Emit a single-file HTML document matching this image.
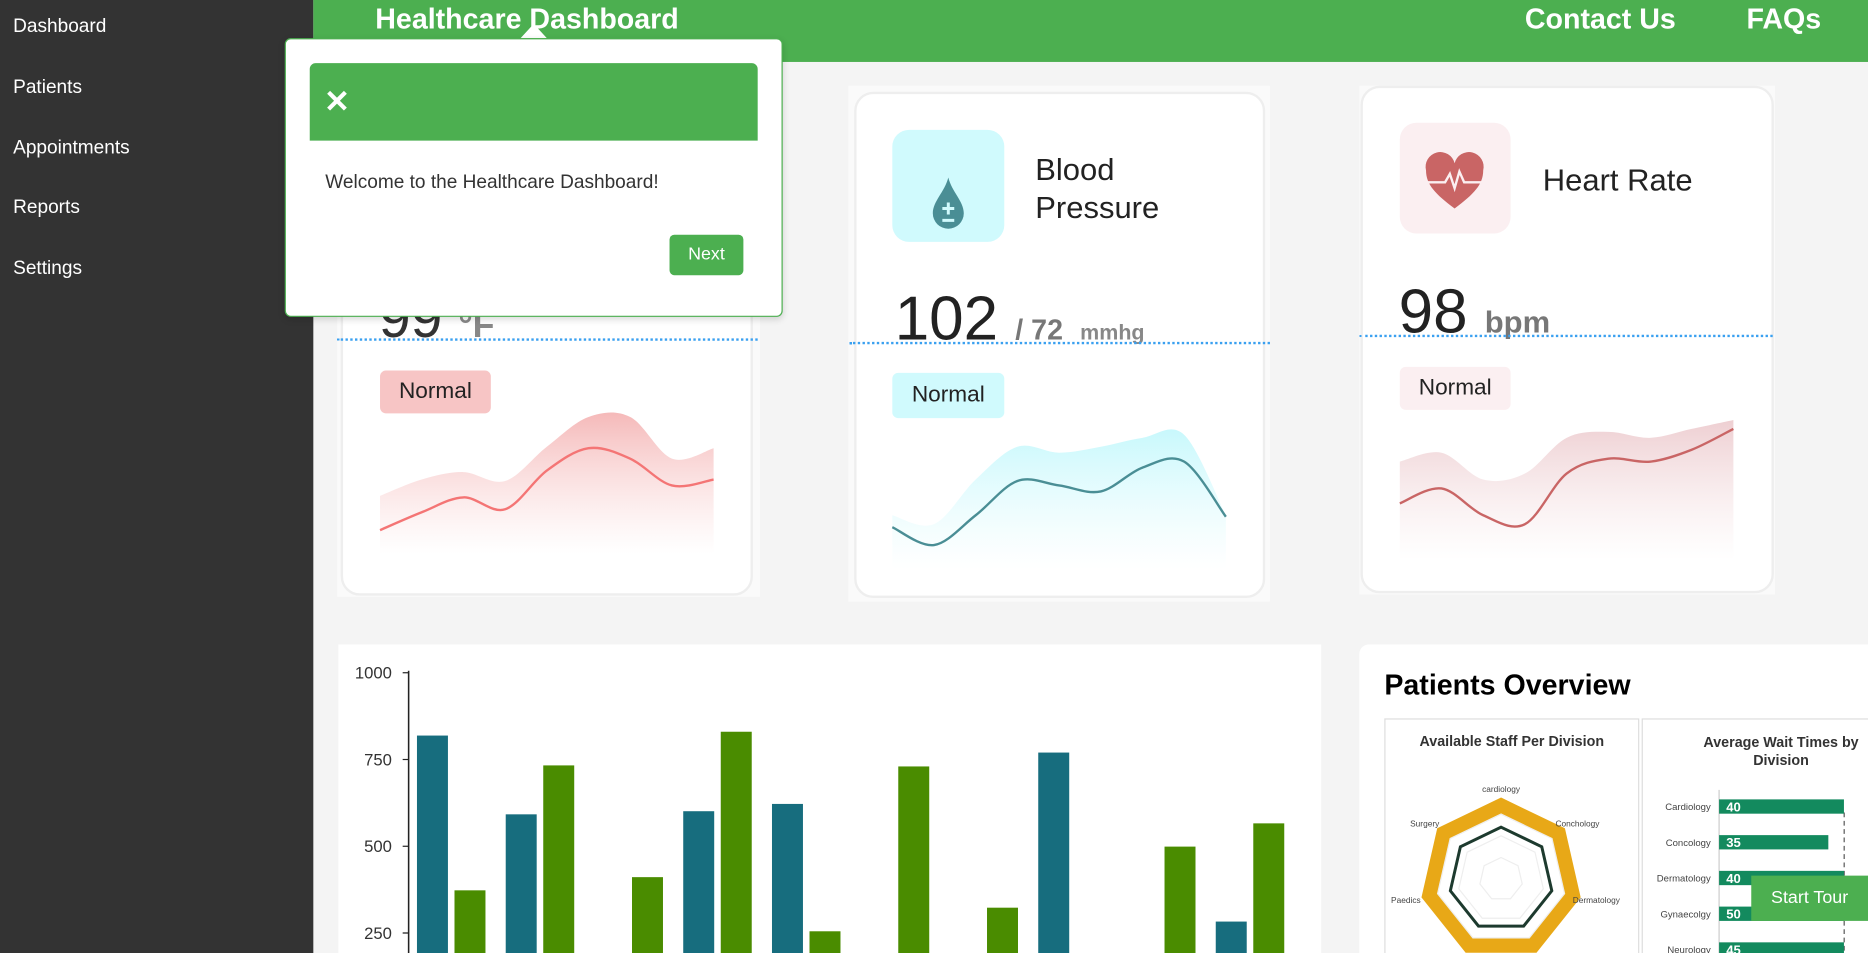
<!DOCTYPE html>
<html><head><meta charset="utf-8"><style>
html,body{margin:0;padding:0;width:1868px;height:946px;overflow:hidden;background:#f4f4f4;font-family:"Liberation Sans",sans-serif}
#w{position:absolute;left:0;top:0;width:1568px;height:800px;transform:scale(1.19133);transform-origin:0 0;background:#f4f4f4;overflow:hidden}
.a{position:absolute}
.side{left:0;top:0;width:263px;height:820px;background:#333}
.side div{position:absolute;left:11px;color:#fff;font-size:16px}
.hdr{left:263px;top:0;width:1305px;height:52px;background:#4CAF50}
.hdr span{position:absolute;color:#fff;font-weight:bold}
.card{background:#fff;border:2px solid #eee;border-radius:16px}
.badge{font-size:19px;color:#222;border-radius:5px;text-align:center}
.dot{border-top:2px dotted #3aa0f0;height:0}
</style></head><body>
<div id="w">
<div class="a side">
 <div style="top:14px">Dashboard</div>
 <div style="top:65px">Patients</div>
 <div style="top:116px">Appointments</div>
 <div style="top:166px">Reports</div>
 <div style="top:217px">Settings</div>
</div>
<div class="a hdr">
 <span style="left:52px;top:3px;font-size:24px">Healthcare Dashboard</span>
 <span style="left:1017px;top:3px;font-size:24px">Contact Us</span>
 <span style="left:1203px;top:3px;font-size:24px">FAQs</span>
</div>

<!-- card 1 -->
<div class="a" style="left:283px;top:60px;width:355px;height:441px;background:#fafafa"></div>
<div class="a card" style="left:286px;top:60px;width:342px;height:436px"></div>
<div class="a" style="left:318px;top:240px;font-size:48px;color:#333">99 <span style="font-size:30px;color:#888;font-weight:bold">°F</span></div>
<div class="a badge" style="left:319px;top:311px;width:93px;height:36px;line-height:36px;background:#f7c5c5">Normal</div>

<!-- card 2 -->
<div class="a" style="left:712px;top:72px;width:354px;height:433px;background:#fafafa"></div>
<div class="a card" style="left:717px;top:77px;width:341px;height:421px"></div>
<div class="a" style="left:749px;top:109px;width:94px;height:94px;background:#d0fafd;border-radius:14px">
 <svg width="94" height="94"><path d="M47 40 C44 52 34 60 34 70 A13 13 0 0 0 60 70 C60 60 50 52 47 40Z" fill="#4a8e95"/><path d="M47 61v10M42 66h10M42 76h10" stroke="#d0fafd" stroke-width="2.5"/></svg></div>
<div class="a" style="left:869px;top:126px;font-size:26px;line-height:32px;color:#222">Blood<br>Pressure</div>
<div class="a" style="left:751px;top:238px;font-size:52px;color:#222">102 <span style="font-size:24px;color:#777;font-weight:bold">/ 72</span> <span style="font-size:18px;color:#888;font-weight:bold">mmhg</span></div>
<div class="a badge" style="left:749px;top:313px;width:94px;height:38px;line-height:38px;background:#d0fafd">Normal</div>

<!-- card 3 -->
<div class="a" style="left:1141px;top:72px;width:349px;height:427px;background:#fafafa"></div>
<div class="a card" style="left:1142px;top:72px;width:343px;height:422px"></div>
<div class="a" style="left:1175px;top:103px;width:93px;height:93px;background:#fbeff1;border-radius:14px">
 <svg width="93" height="93"><path d="M46 72 C30 60 22 52 22 40 A12 12 0 0 1 46 34 A12 12 0 0 1 70 40 C70 52 62 60 46 72Z" fill="#c96565"/><path d="M22 50h16l4-7 4 12 4-14 4 9h16" stroke="#fbeff1" stroke-width="2" fill="none"/></svg></div>
<div class="a" style="left:1295px;top:136px;font-size:26px;color:#222">Heart Rate</div>
<div class="a" style="left:1174px;top:232px;font-size:52px;color:#222">98 <span style="font-size:26px;color:#777;font-weight:bold">bpm</span></div>
<div class="a badge" style="left:1175px;top:308px;width:93px;height:36px;line-height:36px;background:#fbeff1">Normal</div>

<div class="a dot" style="left:283px;top:284px;width:353px"></div>
<div class="a dot" style="left:713px;top:287px;width:353px"></div>
<div class="a dot" style="left:1141px;top:281px;width:347px"></div>

<svg id="spark" class="a" style="left:0;top:0" width="1568" height="800">
<defs>
<linearGradient id="g1" x1="0" y1="0" x2="0" y2="1"><stop offset="0" stop-color="#f5b9b9"/><stop offset="1" stop-color="#fff" stop-opacity="0.6"/></linearGradient>
<linearGradient id="g2" x1="0" y1="0" x2="0" y2="1"><stop offset="0" stop-color="#c8f8fc"/><stop offset="1" stop-color="#fff" stop-opacity="0.6"/></linearGradient>
<linearGradient id="g3" x1="0" y1="0" x2="0" y2="1"><stop offset="0" stop-color="#eecfd2"/><stop offset="1" stop-color="#fff" stop-opacity="0.6"/></linearGradient>
</defs></svg>

<!-- bar chart -->
<div class="a" style="left:284px;top:541px;width:825px;height:270px;background:#fff"></div>
<svg id="bars" class="a" style="left:0;top:0" width="1568" height="800"></svg>

<!-- patients overview -->
<div class="a" style="left:1141px;top:541px;width:440px;height:270px;background:#fff;border-radius:8px"></div>
<div class="a" style="left:1162px;top:562px;font-size:24px;font-weight:bold;color:#000">Patients Overview</div>
<div class="a" style="left:1162px;top:603px;width:212px;height:210px;border:1px solid #ddd"></div>
<div class="a" style="left:1378px;top:603px;width:200px;height:210px;border:1px solid #ddd"></div>
<div class="a" style="left:1162px;top:615px;width:214px;text-align:center;font-size:12px;font-weight:bold;color:#333">Available Staff Per Division</div>
<div class="a" style="left:1400px;top:616px;width:190px;text-align:center;font-size:12px;font-weight:bold;line-height:15px;color:#333">Average Wait Times by<br>Division</div>
<svg id="radar" class="a" style="left:0;top:0" width="1568" height="800"></svg>
<svg id="hbar" class="a" style="left:0;top:0" width="1568" height="800"></svg>

<div class="a" style="left:1470px;top:735px;width:98px;height:38px;line-height:38px;background:#4CAF50;color:#fff;font-size:15px;text-align:center">Start Tour</div>

<!-- popup -->
<div class="a" style="left:437px;top:20px;width:0;height:0;border-left:11px solid transparent;border-right:11px solid transparent;border-bottom:12px solid #fff"></div>
<div class="a" style="left:239px;top:32px;width:416px;height:232px;background:#fff;border:1px solid #4CAF50;border-radius:5px;box-shadow:0 2px 6px rgba(0,0,0,.15)">
 <div class="a" style="left:20px;top:20px;width:376px;height:65px;background:#4CAF50;border-radius:5px 5px 0 0">
  <div class="a" style="left:12px;top:17px;color:#fff;font-size:26px;font-weight:bold;line-height:30px">✕</div></div>
 <div class="a" style="left:33px;top:112px;font-size:16px;color:#333">Welcome to the Healthcare Dashboard!</div>
 <div class="a" style="left:322px;top:164px;width:62px;height:34px;line-height:34px;background:#4CAF50;color:#fff;border-radius:4px;text-align:center;font-size:15px">Next</div>
</div>
</div>
<script>
const NS='http://www.w3.org/2000/svg';
function mk(p,t,a){const e=document.createElementNS(NS,t);for(const k in a)e.setAttribute(k,a[k]);p.appendChild(e);return e;}
// sparklines (values 0-100)
const tempLine=[16,28,38,30,56,71,64,46,50];
const tempFill=[39,50,55,49,72,92,92,64,71];
const bpLine=[30,18,38,61,58,54,70,74,37];
const bpFill=[38,32,62,84,80,84,90,92,38];
const hrLine=[38,48,30,24,58,68,66,74,88];
const hrFill=[66,72,54,58,82,86,82,88,94];
function smooth(pts){let d='M'+pts[0][0]+' '+pts[0][1];for(let i=0;i<pts.length-1;i++){const p0=pts[i-1]||pts[i],p1=pts[i],p2=pts[i+1],p3=pts[i+2]||p2;d+=' C'+(p1[0]+(p2[0]-p0[0])/6)+' '+(p1[1]+(p2[1]-p0[1])/6)+' '+(p2[0]-(p3[0]-p1[0])/6)+' '+(p2[1]-(p3[1]-p1[1])/6)+' '+p2[0]+' '+p2[1];}return d;}
const sp=document.getElementById('spark');
function spark(x0,top,bottom,line,fill,grad,col,nm){const w=280,h=125;const sx=i=>x0+i*w/(line.length-1),sy=v=>top+(100-v)*h/100;
 const fp=fill.map((v,i)=>[sx(i),sy(v)]);const f=mk(sp,'path',{d:smooth(fp)+' L'+(x0+w)+' '+bottom+' L'+x0+' '+bottom+'Z',fill:'url(#'+grad+')'});
 
 
 const l=mk(sp,'path',{d:smooth(line.map((v,i)=>[sx(i),sy(v)])),fill:'none',stroke:col,'stroke-width':2});
 
 }
spark(319,340,465,tempLine,tempFill,'g1','#f47575','temperature-sparkline');
spark(749,355,478,bpLine,bpFill,'g2','#4a8e95','blood-pressure-sparkline');
spark(1175,345,470,hrLine,hrFill,'g3','#c96565','heart-rate-sparkline');

// bar chart
const groups=[0,1,2,3,4,5,6,7,8,9];
const seriesA=[819,592,0,601,622,0,0,770,0,283];
const seriesB=[373,733,411,830,255,730,323,0,499,566];
const yTicks=[250,500,750,1000];
const bs=document.getElementById('bars');
const y=v=>856-v*0.2913, gx=i=>350+i*74.5;
mk(bs,'line',{x1:343,y1:563,x2:343,y2:800,stroke:'#222','stroke-width':1.3});
yTicks.forEach(t=>{mk(bs,'line',{x1:338,y1:y(t),x2:343,y2:y(t),stroke:'#222'});const tx=mk(bs,'text',{x:329,y:y(t)+5,'text-anchor':'end','font-size':14,fill:'#333','font-family':'Liberation Sans'});tx.textContent=t;
 
 });
groups.forEach((g,i)=>{if(seriesA[i]>0){const r=mk(bs,'rect',{x:gx(i),y:y(seriesA[i]),width:26,height:800-y(seriesA[i]),fill:'#176d7e'});
 
 }
 if(seriesB[i]>0){const r=mk(bs,'rect',{x:gx(i)+31.5,y:y(seriesB[i]),width:26,height:800-y(seriesB[i]),fill:'#4a8c00'});
 
 }});

// radar
const radarCats=['cardiology','Conchology','Dermatology','Gynaecology','Neurology','Paedics','Surgery'];
const radarOuter=[34,34,34,34,34,34,34];
const radarInner=[24,24,24,24,24,24,24];
const rs=document.getElementById('radar');const cx=1260,cy=738,R=1.82;
const ang=i=>-Math.PI/2+i*2*Math.PI/7;
[10,20,30].forEach(r=>{const p=[0,1,2,3,4,5,6].map(i=>(cx+Math.cos(ang(i))*r*R)+','+(cy+Math.sin(ang(i))*r*R)).join(' ');mk(rs,'polygon',{points:p,fill:'none',stroke:'#eee'});});
function poly(vals,attrs,nm){const p=vals.map((v,i)=>(cx+Math.cos(ang(i))*v*R)+','+(cy+Math.sin(ang(i))*v*R)).join(' ');const e=mk(rs,'polygon',Object.assign({points:p,fill:'none'},attrs));
 
 }
poly(radarOuter,{stroke:'#e8a817','stroke-width':12,'stroke-linejoin':'miter'},'radar-series-outer');
poly(radarInner,{stroke:'#1d3a2e','stroke-width':2.5},'radar-series-inner');
radarCats.forEach((c,i)=>{const t=mk(rs,'text',{x:cx+Math.cos(ang(i))*82,y:cy+Math.sin(ang(i))*76+3,'text-anchor':'middle','font-size':7,fill:'#444','font-family':'Liberation Sans'});t.textContent=c;
 
 });

// wait times
const waitCats=['Cardiology','Concology','Dermatology','Gynaecolgy','Neurology'];
const waitVals=[40,35,40,50,45];
const hs=document.getElementById('hbar');const hx=v=>1443+v*2.62,hy=i=>671+i*30;
mk(hs,'line',{x1:1443,y1:663,x2:1443,y2:800,stroke:'#ccc'});
mk(hs,'line',{x1:1548,y1:682,x2:1548,y2:800,stroke:'#555','stroke-dasharray':'4 3'});
waitCats.forEach((c,i)=>{const r=mk(hs,'rect',{x:1443,y:hy(i),width:hx(Math.min(waitVals[i],40))-1443,height:12,fill:'#138a5e'});
 
 
 const v=mk(hs,'text',{x:1449,y:hy(i)+10,'font-size':11,'font-weight':'bold',fill:'#fff','font-family':'Liberation Sans'});v.textContent=waitVals[i];
 
 
 const l=mk(hs,'text',{x:1436,y:hy(i)+9,'text-anchor':'end','font-size':8,fill:'#444','font-family':'Liberation Sans'});l.textContent=c;
 
 });
</script>
</body></html>
